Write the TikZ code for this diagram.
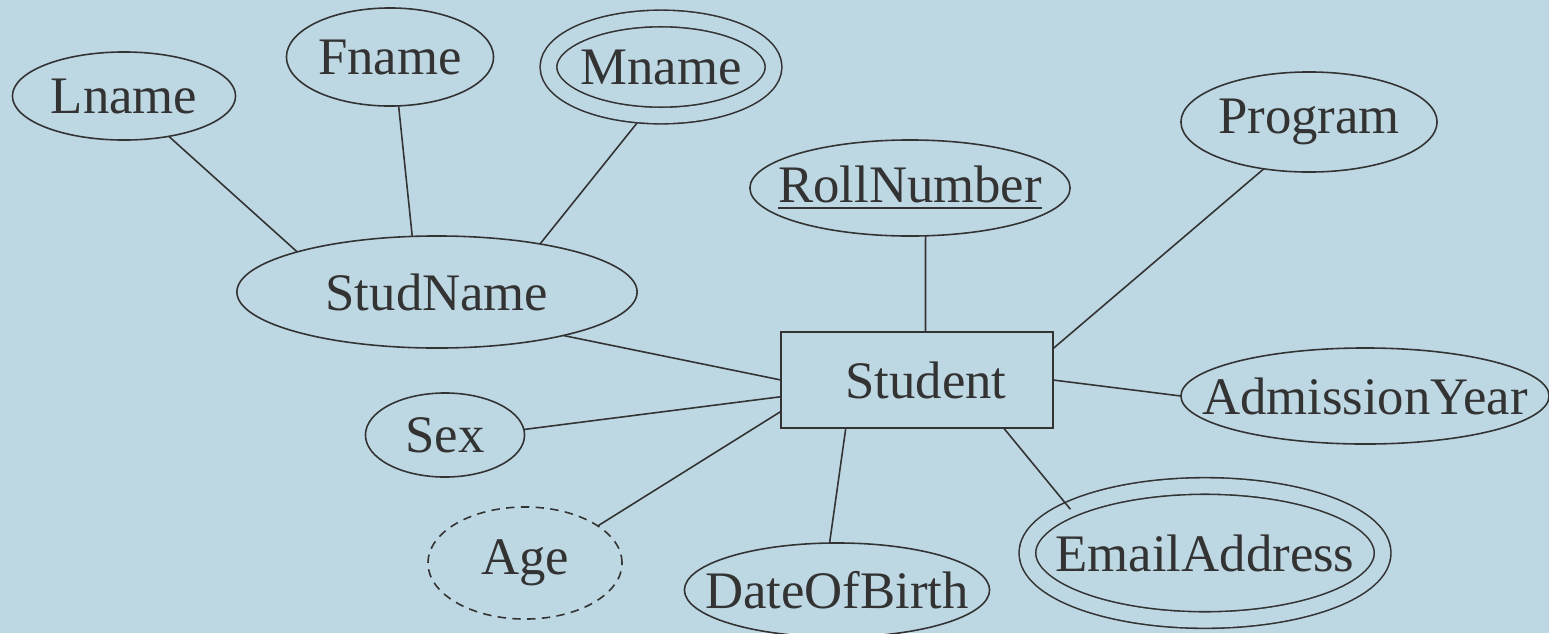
\documentclass[tikz,border=0pt]{standalone}
\usepackage{fontspec}
\setmainfont{Liberation Serif}
\usepackage{tikz}
\usetikzlibrary{shapes.geometric}
\definecolor{paper}{RGB}{189,215,227}
\definecolor{ink}{RGB}{51,51,51}

\begin{document}
\begin{tikzpicture}[x=0.01cm, y=-0.01cm, % pixel sized units, y going down
	line width=0.45pt, % line style
	color=ink,
	font=\fontsize{15}{18}\selectfont,
	attr/.style={ellipse,draw,inner sep=0pt,outer sep=0pt,
		execute at begin node=\hbox to 0pt\bgroup\hss, % text does not size the node
		execute at end node=\hss\egroup},
	multi/.style={attr,double=paper,double distance=0.15cm},
	derived/.style={attr,dash pattern=on 2.4pt off 1.8pt},
	entity/.style={rectangle,draw,inner sep=0pt,outer sep=0pt}]
	\path[use as bounding box,fill=paper] (0,0) rectangle (1549,633);

	\node[attr,minimum width=2.23cm,minimum height=0.88cm] (lname) at (124,96) {Lname};
	\node[attr,minimum width=2.07cm,minimum height=0.98cm] (fname) at (390,57) {Fname};
	\node[multi,outer sep=0.08cm,minimum width=2.25cm,minimum height=0.97cm] (mname) at (661,67) {Mname};
	\node[attr,minimum width=3.2cm,minimum height=0.96cm] (rollno) at (910,188) {\underline{RollNumber}};
	\node[attr,minimum width=2.56cm,minimum height=1cm] (program) at (1309,122) {Program};
	\node[attr,minimum width=4cm,minimum height=1.12cm] (studname) at (437,292) {StudName};
	\node[entity,minimum width=2.72cm,minimum height=0.96cm] (student) at (917,380) {\hspace{0.18cm}Student};
	\node[attr,minimum width=1.59cm,minimum height=0.84cm] (sex) at (445,435) {Sex};
	\node[attr,minimum width=3.68cm,minimum height=0.96cm] (admyear) at (1365,396) {AdmissionYear};
	\node[derived,minimum width=1.94cm,minimum height=1.12cm] (age) at (525,563) {Age};
	\node[attr,minimum width=3.05cm,minimum height=0.94cm] (dob) at (837,590) {DateOfBirth};
	\node[multi,minimum width=3.55cm,minimum height=1.34cm] (email) at (1205,553) {EmailAddress};

	% composite attribute
	\draw (lname.-42) -- (studname.164);
	\draw (fname.-80) -- (studname.114);
	\draw (mname.-113) -- (studname.25);

	% attributes of the entity
	\draw (rollno.-72) -- (student.80);
	\draw (program.-134) -- (student.13);
	\draw (studname.-19) -- (student.west);
	\draw (sex.4) -- (student.187);
	\draw (age.27) -- (student.193);
	\draw (dob.99) -- (student.214);
	\draw (email.162) -- (student.-29);
	\draw (admyear.west) -- (student.east);

\end{tikzpicture}
\end{document}
